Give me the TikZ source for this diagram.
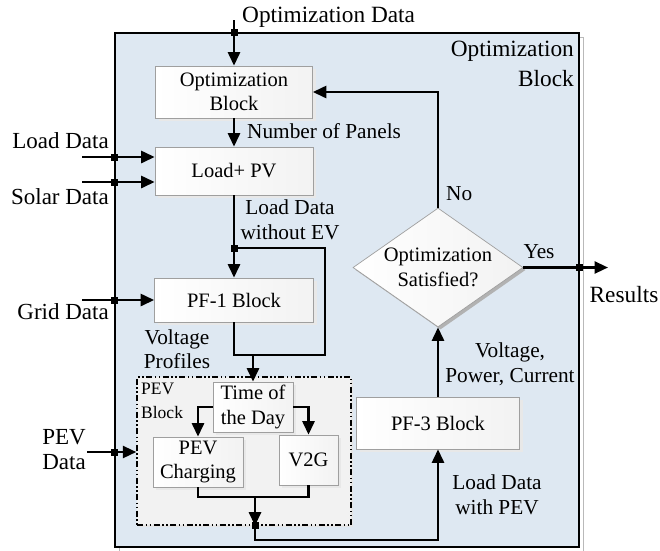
\documentclass[tikz,border=0pt]{standalone}
\usepackage{fontspec}
\setmainfont{Liberation Serif}
\usetikzlibrary{arrows.meta,shapes.geometric,shadows}
\definecolor{panelblue}{RGB}{222,232,242}
\definecolor{pevgray}{RGB}{242,242,242}

\begin{document}
\begin{tikzpicture}[x=1pt,y=-1pt,
  lbl/.style={font=\fontsize{21.3}{24.5}\selectfont, inner sep=0pt, align=center},
  outl/.style={font=\fontsize{23}{25}\selectfont, inner sep=0pt, align=center},
  bigl/.style={font=\fontsize{23.3}{29.5}\selectfont, inner sep=0pt},
  smalll/.style={font=\fontsize{17.5}{24}\selectfont, inner sep=0pt, align=left},
  blk/.style={draw=gray!75, line width=0.7pt, left color=white, right color=gray!10,
    inner sep=0pt, font=\fontsize{20.5}{24.5}\selectfont, align=center,
    drop shadow={shadow xshift=3pt, shadow yshift=-3pt, fill=gray!18, opacity=1}},
  flow/.style={line width=2.6pt, -{Triangle[length=13.5pt,width=12pt]}},
  wire/.style={line width=2.6pt},
  junc/.style={fill=black, rectangle, minimum size=7pt, inner sep=0pt},
]
\useasboundingbox (0,0) rectangle (660,550);

% outer optimization panel with its thin offset outline
\draw[gray!55, line width=0.6pt] (119,37) rectangle (583,551);
\node[draw=black, line width=1.8pt, fill=panelblue, minimum width=464pt,
      minimum height=514pt, inner sep=0pt] (outer) at (347,290) {};
\node[bigl, anchor=north east, align=right] (outerlbl) at (574,41) {Optimization\\Block};

% PEV sub-block
\node[draw=black, line width=1.4pt, fill=pevgray,
      dash pattern=on 6pt off 2.5pt on 1.5pt off 2.5pt on 1.5pt off 2.5pt,
      minimum width=214pt, minimum height=148pt, inner sep=0pt,
      drop shadow={shadow xshift=2pt, shadow yshift=-2pt, fill=gray!20, opacity=1}]
      (pevblk) at (244,451) {};
\node[smalll, anchor=north west] (pevlbl) at (141,383) {PEV\\Block};

% process blocks
\node[blk, minimum width=157pt, minimum height=52pt] (optb) at (234,92) {Optimization\\Block};
\node[blk, minimum width=158pt, minimum height=48pt] (loadpv) at (234,171) {Load+ PV};
\node[blk, minimum width=159pt, minimum height=44pt] (pf1) at (234,300) {PF-1 Block};
\node[blk, minimum width=80pt, minimum height=50pt] (tod) at (253,407) {Time of\\the Day};
\node[blk, minimum width=90pt, minimum height=50pt] (pevc) at (198,462) {PEV\\Charging};
\node[blk, minimum width=59pt, minimum height=50pt] (v2g) at (308.5,460) {V2G};
\node[blk, minimum width=163pt, minimum height=52pt] (pf3) at (438,423) {PF-3 Block};
\node[diamond, draw=gray!75, line width=0.7pt, left color=white, right color=gray!10,
      minimum width=170pt, minimum height=119pt, aspect=1.43, inner sep=0pt,
      font=\fontsize{20.5}{24.5}\selectfont, align=center,
      drop shadow={shadow xshift=2.5pt, shadow yshift=-2.5pt, fill=gray!60, opacity=1}]
      (dia) at (438,267.5) {Optimization\\Satisfied?};

% free ends and bends of connectors
\coordinate (odtop) at (234,20);
\coordinate (ldin) at (82,157);
\coordinate (sdin) at (82,182);
\coordinate (gdin) at (82,300);
\coordinate (pevin) at (87,452);
\coordinate (tap) at (234,248);
\coordinate (merge) at (253,355);
\coordinate (loopc) at (325,248);
\coordinate (sumpt) at (255,497);
\coordinate (bot) at (255,540);
\coordinate (resout) at (608,267.5);

% connectors
\draw[flow] (odtop) -- (optb.north);
\draw[flow] (optb.south) -- (loadpv.north);
\draw[flow] (ldin) -- (ldin -| loadpv.west);
\draw[flow] (sdin) -- (sdin -| loadpv.west);
\draw[flow] (gdin) -- (gdin -| pf1.west);
\draw[flow] (pevin) -- (pevin -| pevblk.west);
\draw[flow] (loadpv.south) -- (pf1.north);
\draw[wire] (pf1.south) |- (merge) -| (loopc) -- (tap);
\draw[flow] (merge) -- (tod.north);
\draw[flow] (tod.west) -| (pevc.north);
\draw[flow] (tod.east) -| (v2g.north);
\draw[wire] (pevc.south) |- (sumpt) -| (v2g.south);
\draw[flow] (sumpt) -- (sumpt |- pevblk.south);
\draw[flow] (sumpt |- pevblk.south) -- (bot) -| (pf3.south);
\draw[flow] (pf3.north) -- (dia.south);
\draw[flow] (dia.north) |- (optb.east);
\draw[flow] (dia.east) -- (resout);

% junction markers
\node[junc] (j1) at (odtop |- outer.north) {};
\node[junc] (j2) at (outer.west |- ldin) {};
\node[junc] (j3) at (outer.west |- sdin) {};
\node[junc] (j4) at (outer.west |- gdin) {};
\node[junc] (j5) at (outer.west |- pevin) {};
\node[junc] (j6) at (tap) {};
\node[junc] (j7) at (sumpt |- pevblk.south) {};
\node[junc] (j8) at (outer.east |- resout) {};

% labels
\node[bigl, anchor=west] (tOD) at (242,17) {Optimization Data};
\node[lbl, anchor=west] (tNP) at (247,131) {Number of Panels};
\node[outl, anchor=east] (tLD) at (109,141) {Load Data};
\node[outl, anchor=east] (tSD) at (109,197) {Solar Data};
\node[lbl] (tLW) at (290,220) {Load Data\\without EV};
\node[outl, anchor=east] (tGD) at (109,312) {Grid Data};
\node[lbl] (tVP) at (177,349) {Voltage\\Profiles};
\node[outl] (tPD) at (64,450) {PEV\\Data};
\node[lbl, anchor=west] (tNo) at (446,194) {No};
\node[lbl] (tYes) at (539,252) {Yes};
\node[bigl] (tRes) at (624,295) {Results};
\node[lbl] (tVPC) at (510,364) {Voltage,\\Power, Current};
\node[lbl] (tLP) at (497,495) {Load Data\\with PEV};
\end{tikzpicture}
\end{document}
